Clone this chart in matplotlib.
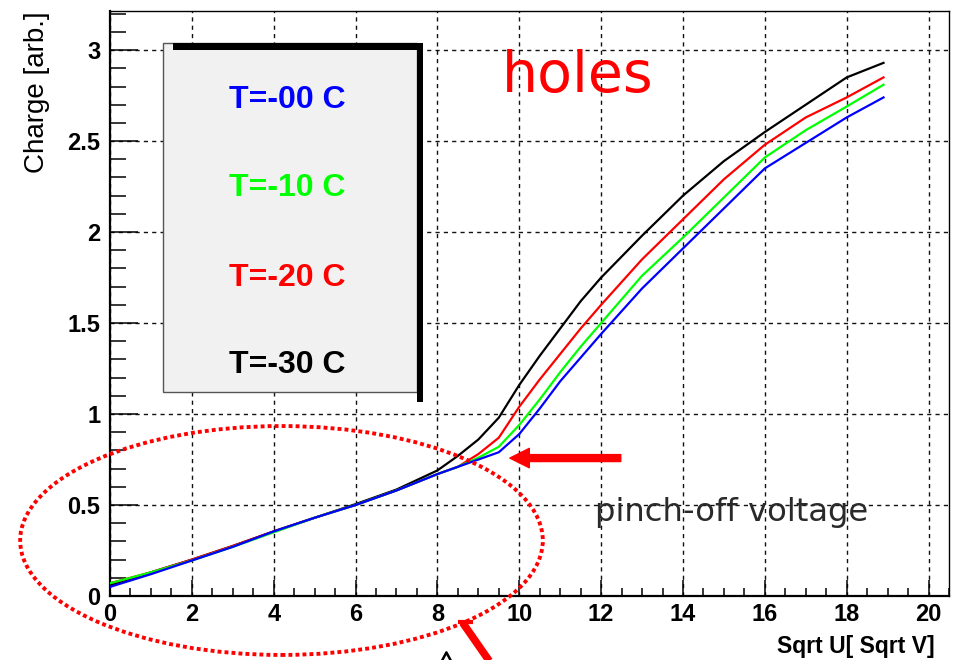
import matplotlib
matplotlib.use("Agg")
import matplotlib.pyplot as plt
from matplotlib.patches import Ellipse, Rectangle
from matplotlib.ticker import MultipleLocator, FixedLocator, FixedFormatter

# racine de la tension appliquee
sqrt_u = [0, 1, 2, 3, 4, 5, 6, 7, 8, 8.5, 9, 9.5, 10, 10.5, 11, 11.5, 12, 13, 14, 15, 16, 17, 18, 18.9]

# charge collectee pour chaque temperature
q_m00 = [0.05, 0.12, 0.195, 0.27, 0.355, 0.43, 0.50, 0.58, 0.67, 0.71, 0.75, 0.79, 0.89, 1.03, 1.18, 1.31, 1.44, 1.69, 1.91, 2.13, 2.35, 2.49, 2.63, 2.74]
q_m10 = [0.07, 0.13, 0.195, 0.27, 0.35, 0.43, 0.50, 0.58, 0.67, 0.71, 0.76, 0.82, 0.94, 1.08, 1.23, 1.37, 1.50, 1.76, 1.97, 2.19, 2.41, 2.56, 2.69, 2.81]
q_m20 = [0.07, 0.13, 0.20, 0.275, 0.355, 0.43, 0.50, 0.58, 0.67, 0.71, 0.78, 0.87, 1.04, 1.19, 1.33, 1.47, 1.60, 1.85, 2.07, 2.29, 2.48, 2.63, 2.74, 2.85]
q_m30 = [0.06, 0.13, 0.20, 0.275, 0.355, 0.43, 0.505, 0.585, 0.69, 0.77, 0.86, 0.98, 1.16, 1.32, 1.47, 1.62, 1.75, 1.98, 2.20, 2.39, 2.55, 2.70, 2.85, 2.93]

labels = ["T=-00 C", "T=-10 C", "T=-20 C", "T=-30 C"]
colors = ["#0000ff", "#00ff00", "#ff0000", "#000000"]

x_ticks = [0, 2, 4, 6, 8, 10, 12, 14, 16, 18, 20]
y_ticks = [0, 0.5, 1, 1.5, 2, 2.5, 3]
y_tick_labels = ["0", "0.5", "1", "1.5", "2", "2.5", "3"]

fig = plt.figure(figsize=(9.69, 6.6), dpi=100)
ax = fig.add_axes([110 / 969, 1 - 596 / 660, 839 / 969, 585 / 660])

# Courbes
for q, c in zip([q_m30, q_m20, q_m10, q_m00], colors[::-1]):
    ax.plot(sqrt_u, q, color=c, lw=1.6, zorder=3)

ax.set_xlim(0, 20.5)
ax.set_ylim(0, 3.215)

# Axes style ROOT
ax.xaxis.set_major_locator(FixedLocator(x_ticks))
ax.xaxis.set_minor_locator(MultipleLocator(0.5))
ax.yaxis.set_major_locator(FixedLocator(y_ticks))
ax.yaxis.set_major_formatter(FixedFormatter(y_tick_labels))
ax.yaxis.set_minor_locator(MultipleLocator(0.1))
ax.tick_params(axis="both", which="both", direction="in", width=1.1, top=False, right=False)
ax.tick_params(axis="y", which="major", length=20, pad=7)
ax.tick_params(axis="y", which="minor", length=11.5)
ax.tick_params(axis="x", which="major", length=11.5, pad=5)
ax.tick_params(axis="x", which="minor", length=5.8)
for lab in ax.get_xticklabels() + ax.get_yticklabels():
    lab.set_family("Liberation Sans")
    lab.set_fontweight("bold")
    lab.set_fontsize(17)

for s in ["left", "bottom"]:
    ax.spines[s].set_linewidth(1.6)
for s in ["top", "right"]:
    ax.spines[s].set_linewidth(1.0)

ax.set_axisbelow(True)
ax.grid(True, which="major", color="#111111", lw=1.0, linestyle=(0, (3, 3)))

ax.set_xlabel("Sqrt U[ Sqrt V]", loc="right", family="Liberation Sans",
              fontweight="bold", fontsize=16.5)
ax.xaxis.set_label_coords(0.983, -0.067)
ax.xaxis.label.set_va("top")
ax.set_ylabel("Charge [arb.]", loc="top", family="Liberation Sans", fontsize=20)
ax.yaxis.set_label_coords(-0.0715, 1.0)

# Boite de legende avec ombre noire
ax.add_patch(Rectangle((0.063, 0.349), 0.303, 0.596, transform=ax.transAxes,
                       facecolor="#f1f1f1", edgecolor="#555555", lw=1.0, zorder=4))
ax.add_patch(Rectangle((0.075, 0.933), 0.298, 0.012, transform=ax.transAxes,
                       facecolor="black", edgecolor="none", zorder=5))
ax.add_patch(Rectangle((0.366, 0.332), 0.007, 0.601, transform=ax.transAxes,
                       facecolor="black", edgecolor="none", zorder=5))
for lab, c, yy in zip(labels, colors, [0.848, 0.697, 0.544, 0.395]):
    ax.text(0.211, yy, lab, transform=ax.transAxes, color=c, ha="center", va="center",
            family="Liberation Sans", fontweight="bold", fontsize=23, zorder=6)

# Annotations
ax.text(9.57, 2.77, "holes", color="#ff0000", family="DejaVu Sans", fontsize=41,
        ha="left", va="baseline", zorder=6)
ax.text(11.84, 0.41, "pinch-off voltage", color="#2a2a2a", family="DejaVu Sans",
        fontsize=23.2, ha="left", va="baseline", zorder=6)
ax.annotate("", xy=(9.77, 0.758), xytext=(12.48, 0.758),
            arrowprops=dict(facecolor="#ff0000", edgecolor="#ff0000", width=5,
                            headwidth=14, headlength=14, shrink=0), zorder=6)

ell = Ellipse((4.19, 0.305), 12.77, 1.258, fill=False, edgecolor="#ff0000", lw=2.8,
              linestyle=(0, (1.0, 0.8)), clip_on=False, zorder=7)
ax.add_patch(ell)

# Fleche coupee en bas
ax.plot([8.62, 9.40], [-0.148, -0.40], color="#ff0000", lw=5.5, solid_capstyle="butt",
        clip_on=False, zorder=7)
ax.plot([8.50, 8.86], [-0.143, -0.143], color="#ff0000", lw=3, solid_capstyle="butt",
        clip_on=False, zorder=7)
# pointe noire coupee par le bord
ax.plot([8.12, 8.22, 8.32], [-0.352, -0.31, -0.352], color="black", lw=1.8,
        clip_on=False, zorder=7)

fig.savefig("out.png", dpi=100)
